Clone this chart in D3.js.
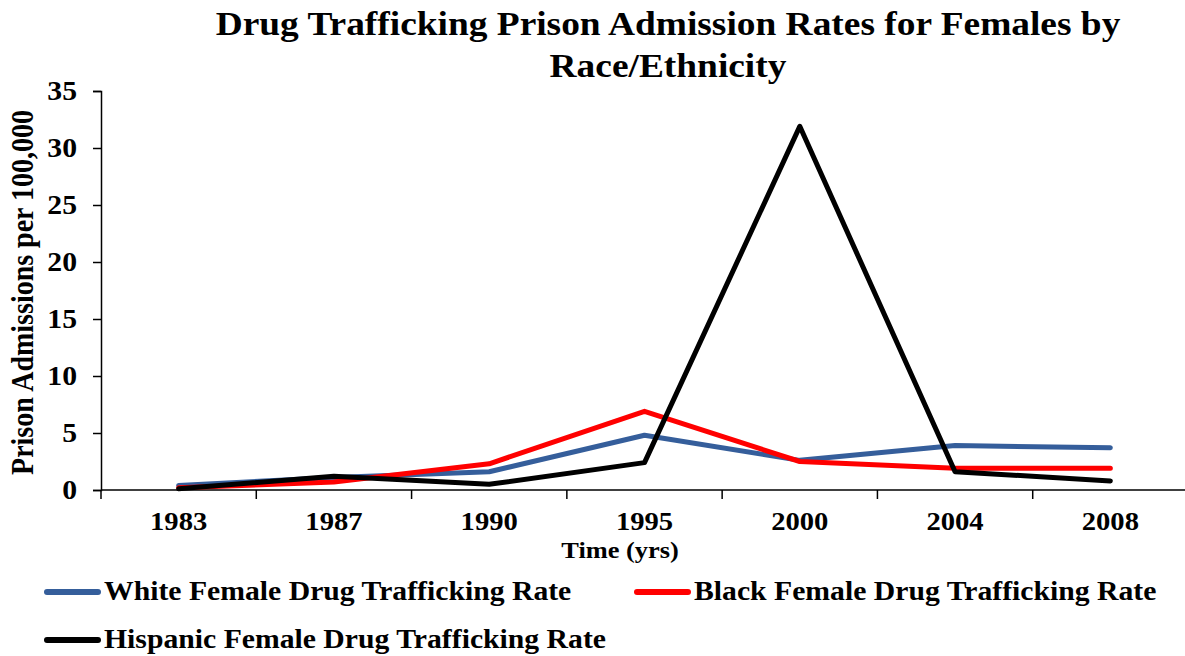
<!DOCTYPE html>
<html>
<head>
<meta charset="utf-8">
<script src="https://cdn.jsdelivr.net/npm/d3@7.9.0/dist/d3.min.js"></script>
<style>
  body { margin: 0; background: #fff; }
  svg text { font-family: "Liberation Serif", "Times New Roman", serif; font-weight: bold; fill: #000; }
</style>
</head>
<body>
<svg id="chart" width="1185" height="656"></svg>
<script>
// data
const years = ['1983', '1987', '1990', '1995', '2000', '2004', '2008'];
const whiteRate = [0.4, 1.1, 1.6, 4.8, 2.6, 3.9, 3.7];
const blackRate = [0.2, 0.7, 2.3, 6.9, 2.5, 1.9, 1.9];
const hispanicRate = [0.1, 1.2, 0.5, 2.4, 31.9, 1.6, 0.8];
const yTicks = [0, 5, 10, 15, 20, 25, 30, 35];

const seriesNames = [
  'White Female Drug Trafficking Rate',
  'Black Female Drug Trafficking Rate',
  'Hispanic Female Drug Trafficking Rate'
];
const seriesColors = ['#355E9B', '#FF0000', '#000000'];
const seriesValues = [whiteRate, blackRate, hispanicRate];

// the original picture is a bit wider than tall, so text is stretched a little
const sx = 1.1;

const svg = d3.select('#chart');
const margin = { left: 101, right: 1188, top: 91, bottom: 490 };

const x = d3.scaleBand().domain(years).range([margin.left, margin.right]);
const y = d3.scaleLinear().domain([0, 35]).range([margin.bottom, margin.top]);

function label(parent, tx, ty, txt, size, anchor) {
  return parent.append('text')
    .attr('transform', `translate(${tx},${ty}) scale(${sx},1)`)
    .attr('text-anchor', anchor || 'start')
    .style('font-size', size + 'px')
    .text(txt);
}

// title
label(svg, 668, 35, 'Drug Trafficking Prison Admission Rates for Females by', 34, 'middle');
label(svg, 668, 77, 'Race/Ethnicity', 34, 'middle');

// y axis
const yAxis = svg.append('g')
  .attr('transform', `translate(${margin.left},0)`)
  .call(d3.axisLeft(y).tickValues(yTicks).tickSize(8).tickFormat(''));
yAxis.select('.domain').attr('stroke-width', 1.5);
yAxis.selectAll('.tick line').attr('stroke-width', 1.5);
yTicks.forEach(t => {
  label(svg, margin.left - 24, y(t) + 9, t, 27, 'end');
});

// x axis: ticks on band edges
const xAxis = svg.append('g')
  .attr('transform', `translate(0,${margin.bottom})`);
xAxis.append('line')
  .attr('x1', margin.left).attr('x2', margin.right)
  .attr('stroke', '#000').attr('stroke-width', 1.5);
xAxis.selectAll('.tk')
  .data(years)
  .join('line')
  .attr('x1', d => x(d)).attr('x2', d => x(d))
  .attr('y1', 0).attr('y2', 9)
  .attr('stroke', '#000').attr('stroke-width', 1.5);
years.forEach(d => {
  label(xAxis, x(d) + x.bandwidth() / 2, 40, d, 26, 'middle');
});

// axis titles
label(svg, 620, 558, 'Time (yrs)', 24, 'middle');
svg.append('text')
  .attr('transform', `translate(33,${(100 + 485) / 2}) rotate(-90) scale(1,${sx})`)
  .attr('text-anchor', 'middle')
  .style('font-size', '28px')
  .text('Prison Admissions per 100,000');

// lines
const line = d3.line()
  .x((d, i) => x(years[i]) + x.bandwidth() / 2)
  .y(d => y(d));

seriesValues.forEach((vals, i) => {
  svg.append('path')
    .datum(vals)
    .attr('d', line)
    .attr('fill', 'none')
    .attr('stroke', seriesColors[i])
    .attr('stroke-width', 5)
    .attr('stroke-linecap', 'round')
    .attr('stroke-linejoin', 'round');
});

// legend
const legendPos = [[45, 592], [635, 592], [45, 640]];
seriesNames.forEach((name, i) => {
  const g = svg.append('g').attr('transform', `translate(${legendPos[i][0]},${legendPos[i][1]})`);
  g.append('line')
    .attr('x1', 2).attr('x2', 53)
    .attr('stroke', seriesColors[i])
    .attr('stroke-width', 6)
    .attr('stroke-linecap', 'round');
  label(g, 59, 8, name, 27, 'start');
});
</script>
</body>
</html>
